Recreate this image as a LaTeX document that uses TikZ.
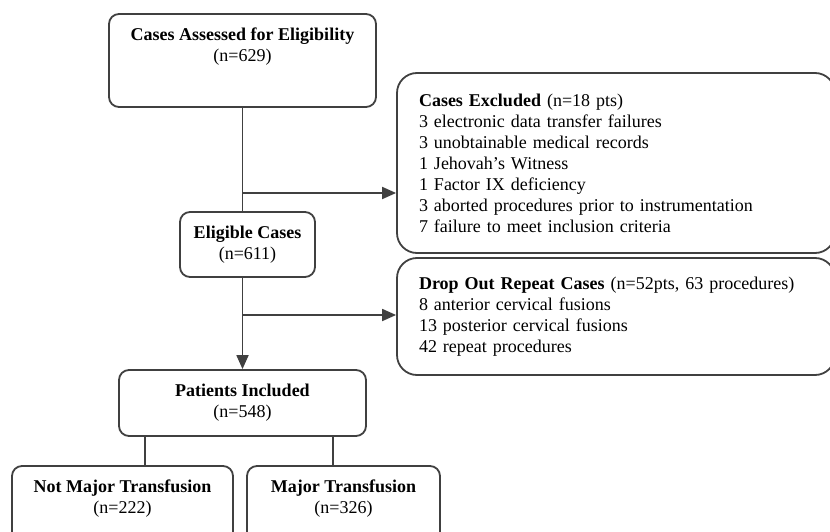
\documentclass[tikz,border=0pt]{standalone}
\usepackage{fontspec}
\setmainfont{Liberation Serif}
\usetikzlibrary{arrows.meta}
\newcommand{\boxpad}[1]{\rule[-#1]{0pt}{#1}}

\begin{document}
\begin{tikzpicture}[x=1pt, y=-1pt,
    box/.style={draw=black!75, line width=1.8pt, rectangle, rounded corners=10pt, align=center, font=\fontsize{18}{21}\selectfont},
    sidebox/.style={box, rounded corners=20pt, align=left, text width=394pt, inner xsep=22pt},
    link/.style={draw=black!75, line width=1.8pt},
    arrow/.style={link, -{Triangle[length=14pt, width=12pt]}}]
        \path[use as bounding box, clip] (0,0) rectangle (830,532);

        % Nodes
        \node[box, minimum width=267pt, minimum height=93pt] (assessed) at (242.5,60.5) {\textbf{Cases Assessed for Eligibility}\\(n=629)\boxpad{31pt}};
        \node[box, minimum width=135pt, minimum height=65pt] (eligible) at (247.5,244.5) {\textbf{Eligible Cases}\\(n=611)};
        \node[box, minimum width=247pt, minimum height=66pt] (included) at (242.5,403) {\textbf{Patients Included}\\(n=548)};
        \node[box, minimum width=221pt, minimum height=82pt] (notmajor) at (122.5,507) {\textbf{Not Major Transfusion}\\(n=222)\boxpad{20pt}};
        \node[box, minimum width=193pt, minimum height=82pt] (major) at (343.5,507) {\textbf{Major Transfusion}\\(n=326)\boxpad{20pt}};
        \node[sidebox, minimum height=180pt] (excluded) at (616,163) {\textbf{Cases Excluded} (n=18 pts)\\
            3 electronic data transfer failures\\
            3 unobtainable medical records\\
            1 Jehovah’s Witness\\
            1 Factor IX deficiency\\
            3 aborted procedures prior to instrumentation\\
            7 failure to meet inclusion criteria};
        \node[sidebox, minimum height=117pt] (dropout) at (616,316.5) {\textbf{Drop Out Repeat Cases} (n=52pts, 63 procedures)\\
            8 anterior cervical fusions\\
            13 posterior cervical fusions\\
            42 repeat procedures};
        \coordinate (split1) at (242.5,193);
        \coordinate (split2) at (242.5,315);

        % Arrows
        \draw[link] (assessed.south) -- (assessed.south |- eligible.north);
        \draw[arrow] (split1) -- (split1 -| excluded.west);
        \draw[arrow] (assessed.south |- eligible.south) -- (included.north);
        \draw[arrow] (split2) -- (split2 -| dropout.west);
        \draw[link] ([xshift=-97.5pt]included.south) -- ([xshift=-97.5pt]included.south |- notmajor.north);
        \draw[link] ([xshift=90.5pt]included.south) -- ([xshift=90.5pt]included.south |- major.north);
    \end{tikzpicture}
\end{document}
